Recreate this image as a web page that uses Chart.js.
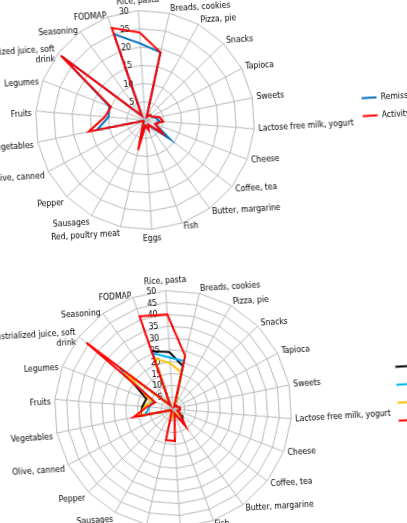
<!DOCTYPE html>
<html>
<head>
<meta charset="utf-8">
<script src="https://cdn.jsdelivr.net/npm/chart.js@4.4.0/dist/chart.umd.min.js"></script>
<style>
  html, body { margin:0; padding:0; width:407px; height:523px; overflow:hidden; background:#fff; }
  canvas { position:absolute; }
  #canvasSopra { left:-95px; top:-4px; transform-origin:240px 124px; transform:rotate(-3.5deg); }
  #canvasSotto { left:-72px; top:276px; transform-origin:245px 133px; transform:rotate(-3.5deg); }
</style>
</head>
<body>
<canvas id="canvasSopra" width="580" height="248"></canvas>
<canvas id="canvasSotto" width="620" height="266"></canvas>
<script>
// categorie (in senso orario dall'alto)
const categorie = ["Rice, pasta", "Breads, cookies", "Pizza, pie", "Snacks", "Tapioca", "Sweets",
  "Lactose free milk, yogurt", "Cheese", "Coffee, tea", "Butter, margarine", "Fish", "Eggs",
  "Red, poultry meat", "Sausages", "Pepper", "Olive, canned", "Vegetables", "Fruits", "Legumes",
  ["Industrialized juice, soft", "drink"], "Seasoning", "FODMAP"];

// grafico sopra
const remission = [21, 19, 1, 2, 2, 3, 4, 3, 8.5, 2, 2, 1.5, 7, 1, 0.5, 0.5, 13.5, 10, 10.5, 28.5, 1.5, 25];
const activity  = [24, 19, 1, 2, 2, 4, 5, 3, 6, 1.5, 3, 1.5, 8.5, 1, 0.5, 0.5, 15.7, 11, 10, 29, 1.5, 26.8];
const maxSopra = 30;
const stepSopra = 5;

// grafico sotto
const gruppo1 = [24, 18.6, 2, 2, 2, 3, 3, 2, 5, 7, 2, 2, 5, 1, 1, 1, 14, 13, 12, 27, 2, 26];
const gruppo2 = [21.7, 20.8, 2, 2, 2, 3, 3, 2, 4, 6, 2, 2, 4, 1, 1, 1, 12, 10, 9, 28, 2, 25];
const gruppo3 = [19.3, 15.8, 2, 2, 2, 3, 3, 2, 3, 4, 2, 2, 5, 1, 1, 1, 15, 12, 10, 26, 2, 22.8];
const gruppo4 = [40, 23, 1, 2, 2, 3, 3, 2, 4, 9, 2, 13.5, 13.5, 1, 1, 1, 17, 11, 8, 46, 2, 41.5];
const nomiSotto = ["Remission", "Mild activity", "Moderate activity", "Severe activity"];
const maxSotto = 50;
const stepSotto = 5;

Chart.defaults.font.family = "'DejaVu Sans Condensed', 'DejaVu Sans', sans-serif";
Chart.defaults.color = "#000";

// sposta la legenda dove serve
const spostaLegenda = {
  id: "spostaLegenda",
  afterLayout(chart, args, opts) {
    let leg = chart.legend;
    if (!leg || opts.left === undefined) return;
    leg.left = opts.left;
    leg.right = opts.left + 200;
    leg.top = opts.cy - 100;
    leg.bottom = opts.cy + 100;
  }
};

// etichette dei lati centrate in verticale sul punto (come excel)
const centraEtichette = {
  id: "centraEtichette",
  afterLayout(chart, args, opts) {
    let sc = chart.scales.r;
    let n = sc._pointLabels.length;
    sc._pointLabelItems.forEach((it, i) => {
      let ang = i * 360 / n;
      if (ang === 0 || ang === 180) return;
      let h = it.bottom - it.top;
      let punto = it.y;
      if (ang < 90 || ang > 270) punto = it.y + h;
      else if (ang > 90 && ang < 270) punto = it.y;
      else punto = it.y + h / 2;
      it.y = punto - h / 2 + (ang > 180 ? (opts.dySinistra || 0) : 0);
      it.top = it.y;
      it.bottom = it.y + h;
    });
  }
};

window.onload = function(){
  disegnaRadar(document.getElementById("canvasSopra"), [
    {label: "Remission", data: remission, borderColor: "#0070C0", order: 2},
    {label: "Activity", data: activity, borderColor: "#FF0000", order: 1}
  ], maxSopra, stepSopra, 100, {left: 448, cy: 124.5}, 5);

  disegnaRadar(document.getElementById("canvasSotto"), [
    {label: nomiSotto[0], data: gruppo1, borderColor: "#000000", order: 4},
    {label: nomiSotto[1], data: gruppo2, borderColor: "#00B0F0", order: 3},
    {label: nomiSotto[2], data: gruppo3, borderColor: "#FFC000", order: 2},
    {label: nomiSotto[3], data: gruppo4, borderColor: "#FF0000", order: 1}
  ], maxSotto, stepSotto, 130, {left: 460, cy: 131.5}, 5);
}

function disegnaRadar(canvas, serie, max, step, padDestra, posLegenda, spazi){
  for (let s of serie) {
    s.backgroundColor = s.borderColor;
    s.borderWidth = 2;
    s.fill = false;
    s.pointRadius = 0;
  }

  new Chart(canvas, {
    type: "radar",
    data: { labels: categorie, datasets: serie },
    plugins: [spostaLegenda, centraEtichette],
    options: {
      responsive: false,
      animation: false,
      layout: { padding: { right: padDestra } },
      plugins: {
        tooltip: { enabled: false },
        spostaLegenda: posLegenda,
        centraEtichette: { dySinistra: 3 },
        legend: {
          position: "chartArea",
          align: "center",
          labels: {
            usePointStyle: true,
            pointStyle: "line",
            pointStyleWidth: 15,
            padding: 9.5,
            color: "#000",
            font: { size: 8.5 },
            sort: (a, b) => a.datasetIndex - b.datasetIndex
          }
        }
      },
      scales: {
        r: {
          min: 0,
          max: max,
          ticks: {
            stepSize: step,
            showLabelBackdrop: false,
            backdropPadding: 0,
            color: "#000",
            font: { size: 8.5 },
            // testo spostato a sinistra dell'asse
            callback: v => String(v) + "\u2007".repeat(String(v).length) + "\u2002".repeat(spazi)
          },
          grid: { color: "#b8b8b8", lineWidth: 1 },
          angleLines: { color: "#b8b8b8", lineWidth: 1 },
          pointLabels: { color: "#000", font: { size: 8.5 }, padding: 0 }
        }
      }
    }
  });
}
</script>
</body>
</html>
